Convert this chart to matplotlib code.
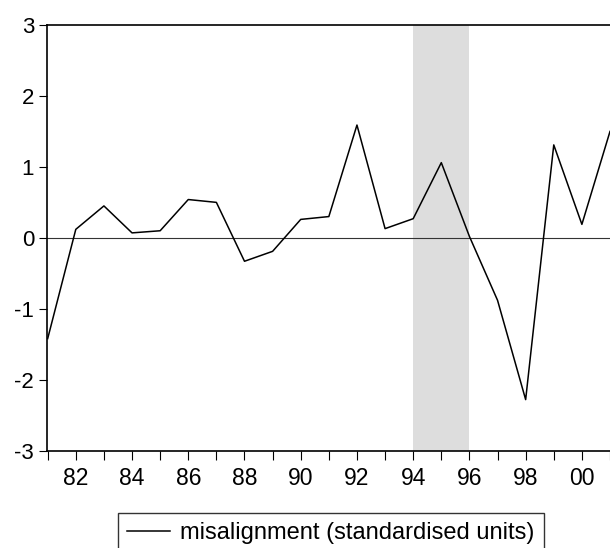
import matplotlib
matplotlib.use("Agg")
import matplotlib.pyplot as plt
from matplotlib.lines import Line2D

plt.rcParams['font.family'] = ['Liberation Sans', 'DejaVu Sans']

# Annual observations
years = list(range(1981, 2002))
misalignment = [-1.42, 0.12, 0.45, 0.07, 0.10, 0.54, 0.50, -0.33, -0.19, 0.26,
                0.30, 1.59, 0.13, 0.27, 1.06, 0.02, -0.88, -2.28, 1.31, 0.19, 1.50]

# Shaded episode
shade_start, shade_end = 1994, 1996

y_ticks = [-3, -2, -1, 0, 1, 2, 3]
x_label_years = list(range(1982, 2001, 2))
x_labels = [f"{y % 100:02d}" for y in x_label_years]
series_label = "misalignment (standardised units)"

fig = plt.figure(figsize=(6.10, 5.48), dpi=100)
W, H = 610, 548
left_px, right_px, top_px, bottom_px = 46.7, 610, 25.0, 450.7
ax = fig.add_axes([left_px / W, 1 - bottom_px / H,
                   (right_px - left_px) / W, (bottom_px - top_px) / H])

ax.axvspan(shade_start, shade_end, color='#dddddd', lw=0, zorder=0)
ax.axhline(0, color='#333333', lw=0.8, zorder=1)
ax.plot(years, misalignment, color='black', lw=1.1, zorder=2,
        label=series_label)

ax.set_xlim(1980.965, 2000.855)
ax.set_ylim(-3, 3)

ax.set_yticks(y_ticks)
ax.set_yticklabels([str(v) for v in y_ticks])
ax.set_xticks(years, minor=True)
ax.set_xticks(x_label_years)
ax.set_xticklabels(x_labels)

ax.tick_params(axis='y', which='major', direction='out', length=6, width=0.8,
               pad=3, labelsize=16)
ax.tick_params(axis='x', which='both', direction='out', length=6.5, width=0.8,
               pad=5, labelsize=16.5)

for side in ('left', 'top', 'bottom'):
    ax.spines[side].set_linewidth(1.2)
ax.spines['right'].set_visible(False)

leg = fig.legend(handles=[Line2D([], [], color='black', lw=1.1)],
                 labels=[series_label],
                 loc='upper left', bbox_to_anchor=(118 / W, 1 - 512.5 / H),
                 fontsize=17, frameon=True, fancybox=False, shadow=False,
                 handlelength=1.8, handletextpad=0.42, borderpad=0.4,
                 borderaxespad=0)
leg.get_frame().set_edgecolor('black')
leg.get_frame().set_linewidth(1.0)

fig.savefig('out.png', dpi=100)
